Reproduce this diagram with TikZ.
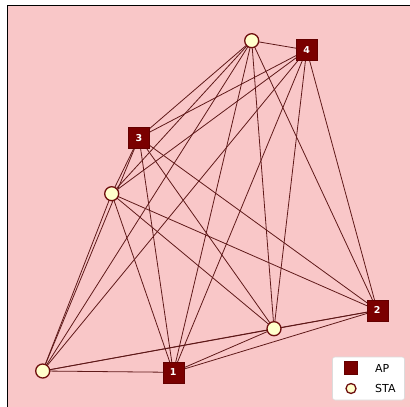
\documentclass[tikz,border=0pt]{standalone}
\usepackage{fontspec}
\setmainfont{DejaVu Sans}
\usetikzlibrary{backgrounds}
\definecolor{bgpink}{RGB}{249,199,200}
\definecolor{edgecol}{RGB}{95,25,25}
\definecolor{apfill}{RGB}{122,0,0}
\definecolor{apedge}{RGB}{100,0,0}
\definecolor{stafill}{RGB}{255,255,204}
\definecolor{staedge}{RGB}{110,15,15}
\definecolor{legedge}{RGB}{220,220,220}
\begin{document}
\begin{tikzpicture}[x=1pt,y=-1pt,
  apnode/.style={rectangle,fill=apfill,draw=apedge,line width=0.6pt,minimum size=21pt,inner sep=0pt,
    text=white,font=\bfseries\fontsize{9.5}{9.5}\selectfont},
  stanode/.style={circle,fill=stafill,draw=staedge,line width=1.3pt,minimum size=14pt,inner sep=0pt},
  link/.style={draw=edgecol,line width=0.8pt},
  legap/.style={rectangle,fill=apfill,draw=apedge,line width=0.5pt,minimum size=13pt,inner sep=0pt},
  legsta/.style={circle,fill=stafill,draw=staedge,line width=1.3pt,minimum size=10pt,inner sep=0pt},
  legtext/.style={anchor=west,inner sep=0pt,font=\fontsize{11}{11}\selectfont}]
\useasboundingbox (0,0) rectangle (410,407);
\begin{pgfonlayer}{background}
  \fill[white] (0,0) rectangle (410,407);
  \fill[bgpink] (7,5) rectangle (413,410);
  \draw[black,line width=0.8pt] (7,410) -- (7,5) -- (413,5);
\end{pgfonlayer}

% access points
\node[apnode] (ap1) at (173.3,372.3) {1};
\node[apnode] (ap2) at (377.3,310.3) {2};
\node[apnode] (ap3) at (139,137.7) {3};
\node[apnode] (ap4) at (306.7,50) {4};
% stations
\node[stanode] (st1) at (251.7,40.7) {};
\node[stanode] (st2) at (111.7,193.7) {};
\node[stanode] (st3) at (274,328.7) {};
\node[stanode] (st4) at (42.7,371) {};

% every pair of devices is linked
\begin{pgfonlayer}{background}
  \foreach \a/\b in {ap1/ap2,ap1/ap3,ap1/ap4,ap1/st1,ap1/st2,ap1/st3,ap1/st4,
                     ap2/ap3,ap2/ap4,ap2/st1,ap2/st2,ap2/st3,ap2/st4,
                     ap3/ap4,ap3/st1,ap3/st2,ap3/st3,ap3/st4,
                     ap4/st1,ap4/st2,ap4/st3,ap4/st4,
                     st1/st2,st1/st3,st1/st4,
                     st2/st3,st2/st4,
                     st3/st4}
    \path[link] (\a.center) -- (\b.center);
\end{pgfonlayer}

% legend
\node[draw=legedge,fill=white,rounded corners=2.5pt,line width=0.6pt,
      minimum width=72pt,minimum height=43pt,inner sep=0pt] (legend) at (368.5,378.5) {};
\node[legap] (legapmark) at (351,368) {};
\node[legsta] (legstamark) at (351,388.5) {};
\node[legtext] (legaptext) at (375,368) {AP};
\node[legtext] (legstatext) at (375,388.5) {STA};
\end{tikzpicture}
\end{document}
